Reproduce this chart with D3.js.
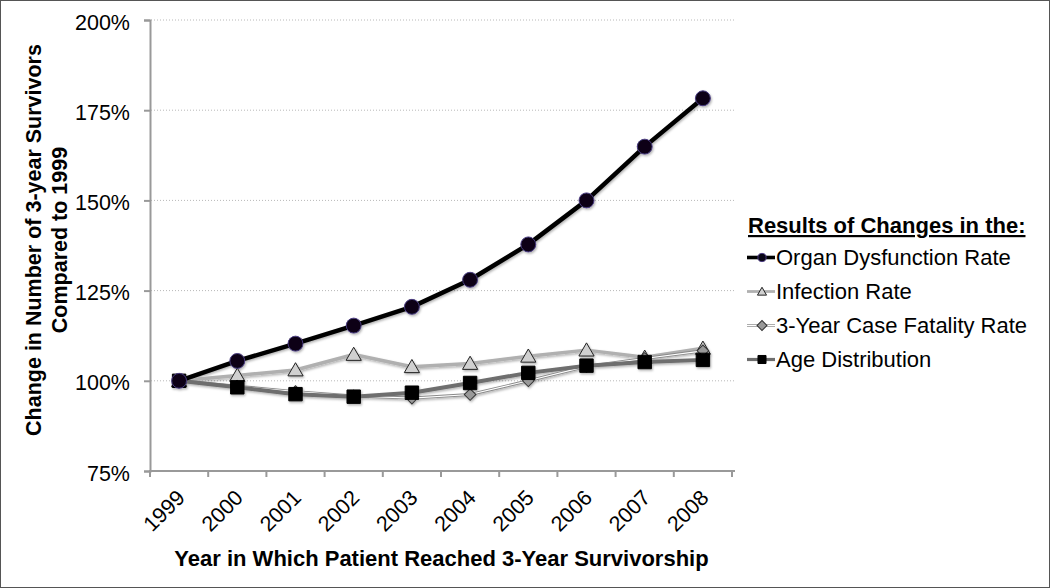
<!DOCTYPE html>
<html><head><meta charset="utf-8">
<script src="https://cdn.jsdelivr.net/npm/d3@7"></script>
<style>
body{margin:0;background:#fff}
svg{display:block}
text{font-family:"Liberation Sans",Arial,Helvetica,sans-serif;fill:#000}
</style>
</head><body>
<svg id="c" width="1050" height="588"></svg>
<script>
const years = ["1999","2000","2001","2002","2003","2004","2005","2006","2007","2008"];
const organDysfunction = [100, 105.5, 110.3, 115.3, 120.5, 128.0, 137.8, 150.0, 164.9, 178.3];
const infectionRate    = [100, 101.5, 103.0, 107.3, 103.9, 104.8, 106.8, 108.5, 106.5, 109.0];
const caseFatality     = [100, 98.5, 97.0, 95.8, 95.2, 96.2, 100.0, 104.0, 106.2, 108.3];
const ageDistribution  = [100, 98.2, 96.3, 95.6, 96.7, 99.4, 102.2, 104.2, 105.2, 105.8];
const yTicks = [75, 100, 125, 150, 175, 200];
const seriesNames = ["Organ Dysfunction Rate","Infection Rate","3-Year Case Fatality Rate","Age Distribution"];
const yTitleLines = ["Change in Number of 3-year Survivors","Compared to 1999"];

const svg = d3.select("#c");
const W = 1050, H = 588;
svg.append("rect").attr("x",0.5).attr("y",0.5).attr("width",W-1).attr("height",H-1)
  .attr("fill","#fff").attr("stroke","#555").attr("stroke-width",1);

const defs = svg.append("defs");
const f = defs.append("filter").attr("id","sh").attr("x","-20%").attr("y","-20%").attr("width","140%").attr("height","140%");
f.append("feDropShadow").attr("dx",1).attr("dy",1.5).attr("stdDeviation",1.3).attr("flood-color","#000").attr("flood-opacity",0.3);

const x = d3.scaleBand().domain(years).range([150, 732]).padding(0);
const y = d3.scaleLinear().domain([75, 200]).range([471, 20]);
const cx = d => x(d) + x.bandwidth()/2;

// gridlines
svg.append("g").selectAll("line").data(yTicks.filter(t => t > 75)).join("line")
  .attr("x1",151).attr("x2",734).attr("y1",d=>y(d)).attr("y2",d=>y(d))
  .attr("stroke","#b8b8b8").attr("stroke-width",1).attr("stroke-dasharray","1,2");

// y axis
const yAxis = svg.append("g").attr("transform","translate(150,0)")
  .call(d3.axisLeft(y).tickValues(yTicks).tickFormat(d => d + "%").tickSize(6).tickPadding(14));
yAxis.select(".domain").attr("stroke","#999").attr("stroke-width",2);
yAxis.selectAll(".tick line").attr("stroke","#999").attr("stroke-width",2);
yAxis.selectAll(".tick text").attr("font-size",21.5).attr("dy","0.42em")
  .attr("font-family","'Liberation Sans',Arial,sans-serif").attr("fill","#000");

// x axis
const xAxisG = svg.append("g").attr("transform","translate(0,471)");
xAxisG.append("line").attr("x1",149).attr("x2",735).attr("y1",0).attr("y2",0).attr("stroke","#999").attr("stroke-width",2);
xAxisG.selectAll("line.tk").data(d3.range(years.length+1)).join("line").attr("class","tk")
  .attr("x1",i => 150 + i*x.step()).attr("x2",i => 150 + i*x.step())
  .attr("y1",0).attr("y2",6).attr("stroke","#999").attr("stroke-width",2);
xAxisG.selectAll("text").data(years).join("text")
  .attr("transform", d => `translate(${cx(d)+7},${28}) rotate(-45)`)
  .attr("text-anchor","end").attr("font-size",21.5).text(d => d);

// axis titles
svg.append("text").attr("x",441.5).attr("y",566).attr("text-anchor","middle")
  .attr("font-size",22).attr("font-weight","bold").text("Year in Which Patient Reached 3-Year Survivorship");
svg.selectAll("text.yt").data(yTitleLines).join("text").attr("class","yt")
  .attr("transform",(d,i) => `translate(${41 + i*26},240) rotate(-90)`)
  .attr("text-anchor","middle").attr("font-size",21.5).attr("font-weight","bold").text(d => d);

// marker shapes
const sym = {
  circle: d3.symbol().type(d3.symbolCircle).size(175),
  triangle: d3.symbol().type(d3.symbolTriangle).size(100),
  diamond: d3.symbol().type(d3.symbolSquare).size(68),
  square: d3.symbol().type(d3.symbolSquare).size(180)
};
const rot = {circle:0, triangle:0, diamond:45, square:0};

const series = [
  {name: seriesNames[0], values: organDysfunction, line:"#000", w:4.5, shape:"circle", fill:"#0a0618", stroke:"#4a3a80", sw:1},
  {name: seriesNames[1], values: infectionRate, line:"#b0b0b0", w:3.5, shape:"triangle", fill:"#d0d0d0", stroke:"#222", sw:1},
  {name: seriesNames[2], values: caseFatality, line:"#8a8a8a", w:3, shape:"diamond", fill:"#999", stroke:"#333", sw:1, inner:true},
  {name: seriesNames[3], values: ageDistribution, line:"#6e6e6e", w:4, shape:"square", fill:"#000", stroke:"#000", sw:1}
];

const line = d3.line().x((v,i) => cx(years[i])).y(v => y(v));
const drawOrder = [1,2,3,0];
const gS = svg.append("g").attr("filter","url(#sh)");
drawOrder.forEach(k => {
  const s = series[k];
  const g = gS.append("g");
  g.append("path").attr("d", line(s.values)).attr("fill","none").attr("stroke",s.line).attr("stroke-width",s.w).attr("stroke-linejoin","round");
  if (s.inner) g.append("path").attr("d", line(s.values)).attr("fill","none").attr("stroke","#fff").attr("stroke-width",1.1);
  g.selectAll("path.m").data(s.values).join("path").attr("class","m")
    .attr("transform",(v,i) => `translate(${cx(years[i])},${y(v) + (s.shape==="triangle"?1.5:0)}) rotate(${rot[s.shape]})`)
    .attr("d", sym[s.shape]()).attr("fill",s.fill).attr("stroke",s.stroke).attr("stroke-width",s.sw);
});

// legend
const lg = svg.append("g");
lg.append("text").attr("x",748).attr("y",233).attr("font-size",22).attr("font-weight","bold")
  .attr("text-decoration","underline").text("Results of Changes in the:");
const ly = [265, 299, 333, 367];
series.forEach((s,i) => {
  const g = lg.append("g").attr("transform",`translate(0,${ly[i]})`);
  const my = -7.5;
  g.append("line").attr("x1",747).attr("x2",775).attr("y1",my).attr("y2",my).attr("stroke",s.line).attr("stroke-width",s.w*0.8);
  if (s.inner) g.append("line").attr("x1",747).attr("x2",775).attr("y1",my).attr("y2",my).attr("stroke","#fff").attr("stroke-width",1);
  const sc = {circle:0.55, triangle:0.6, diamond:0.85, square:0.6}[s.shape];
  g.append("path").attr("transform",`translate(762,${my + (s.shape==="triangle"?1:0)}) scale(${sc}) rotate(${rot[s.shape]})`)
    .attr("d", sym[s.shape]()).attr("fill",s.fill).attr("stroke",s.stroke).attr("stroke-width",s.sw/sc);
  g.append("text").attr("x",776).attr("y",0).attr("font-size",22).text(s.name);
});
</script>
</body></html>
